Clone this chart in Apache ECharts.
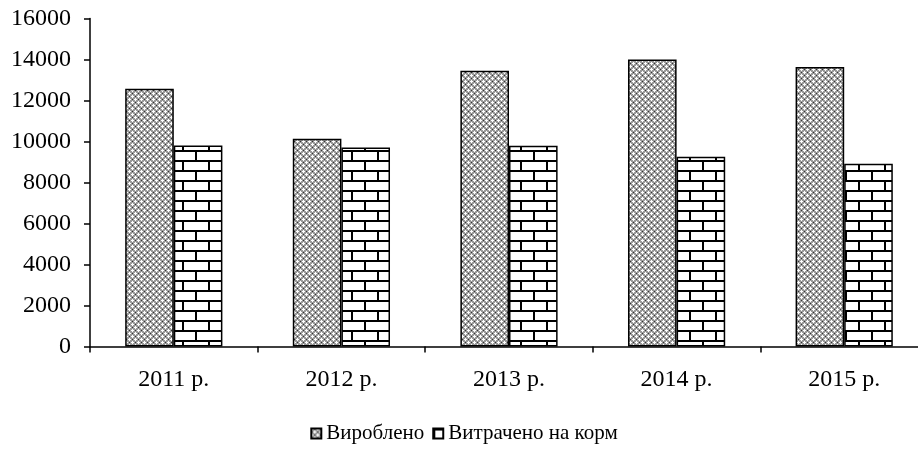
<!DOCTYPE html>
<html>
<head>
<meta charset="utf-8">
<script src="https://cdn.jsdelivr.net/npm/echarts@6/dist/echarts.min.js"></script>
<style>
html,body{margin:0;padding:0;background:#fff;overflow:hidden;width:918px;height:457px;}
#c{width:928px;height:457px;}
</style>
</head>
<body>
<div id="c"></div>
<script>
var categories = ['2011 р.', '2012 р.', '2013 р.', '2014 р.', '2015 р.'];
var produced = [12570, 10140, 13450, 14000, 13630];
var feed = [9810, 9710, 9790, 9260, 8920];
var seriesNames = ['Вироблено', 'Витрачено на корм'];
var yTicks = [0, 2000, 4000, 6000, 8000, 10000, 12000, 14000, 16000];

function makeDiamond() {
  var c = document.createElement('canvas');
  c.width = 6; c.height = 6;
  var g = c.getContext('2d');
  g.fillStyle = '#9a9a9a'; g.fillRect(0, 0, 6, 6);
  g.fillStyle = '#ffffff';
  [[0,0],[3,3]].forEach(function(p){
    var x = p[0], y = p[1];
    [[0,0],[1,0],[-1,0],[0,1],[0,-1]].forEach(function(d){
      g.fillRect((x + d[0] + 6) % 6, (y + d[1] + 6) % 6, 1, 1);
    });
  });
  g.fillStyle = '#333';
  g.fillRect(3, 0, 1, 1);
  g.fillRect(0, 3, 1, 1);
  return c;
}
function makeBrick() {
  var c = document.createElement('canvas');
  c.width = 26; c.height = 20;
  var g = c.getContext('2d');
  g.fillStyle = '#ffffff'; g.fillRect(0, 0, 26, 20);
  g.fillStyle = '#000';
  g.fillRect(0, 0, 26, 2);
  g.fillRect(0, 10, 26, 2);
  g.fillRect(0, 0, 2, 10);
  g.fillRect(13, 10, 2, 10);
  return c;
}
var diamond = makeDiamond();
var brick = makeBrick();

var chart = echarts.init(document.getElementById('c'), null, {renderer: 'canvas'});
var font = '"Liberation Serif", "Times New Roman", serif';
chart.setOption({
  animation: false,
  textStyle: {fontFamily: font},
  grid: {left: 90, right: 0, top: 18.5, bottom: 110.5, containLabel: false},
  legend: {
    bottom: 8,
    left: 'center',
    icon: 'rect',
    itemWidth: 10,
    itemHeight: 10,
    itemGap: 8,
    textStyle: {fontFamily: font, fontSize: 21, color: '#000'},
    data: seriesNames
  },
  xAxis: {
    type: 'category',
    data: categories,
    axisLine: {lineStyle: {color: '#000', width: 1.5}},
    axisTick: {show: true, length: 6, lineStyle: {color: '#000', width: 1.5}},
    axisLabel: {color: '#000', fontSize: 24, margin: 21, fontFamily: font}
  },
  yAxis: {
    type: 'value',
    min: yTicks[0],
    max: yTicks[yTicks.length - 1],
    interval: 2000,
    splitLine: {show: false},
    axisLine: {show: true, lineStyle: {color: '#000', width: 1.5}},
    axisTick: {show: true, length: 6, lineStyle: {color: '#000', width: 1.5}},
    axisLabel: {color: '#000', fontSize: 24, margin: 19, fontFamily: font,
      formatter: function (v) { return String(v); }}
  },
  series: [
    {
      name: seriesNames[0], type: 'bar', data: produced,
      barGap: '0%', barCategoryGap: '42%',
      itemStyle: {color: {image: diamond, repeat: 'repeat'}, borderColor: '#000', borderWidth: 1.5}
    },
    {
      name: seriesNames[1], type: 'bar', data: feed,
      barGap: '0%', barCategoryGap: '42%',
      itemStyle: {color: {image: brick, repeat: 'repeat'}, borderColor: '#000', borderWidth: 1.5}
    }
  ]
});
</script>
</body>
</html>
